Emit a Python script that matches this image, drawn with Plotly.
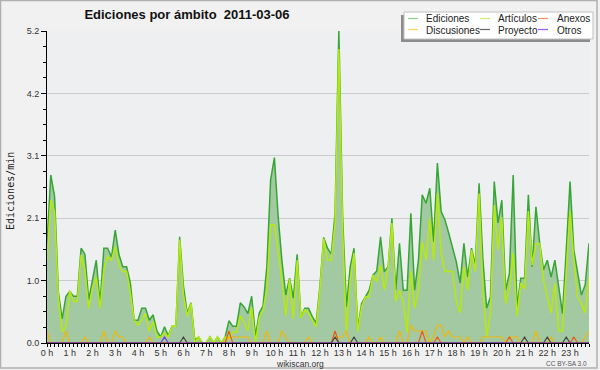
import numpy as np
import plotly.graph_objects as go

# ---- data: values per 10-minute slot (6 per hour, one row per hour) ----
ediciones = [
    1.65, 2.8, 2.44, 0.85, 0.4, 0.78,
    0.86, 0.78, 0.78, 1.58, 1.48, 0.72,
    1.05, 1.38, 0.66, 1.58, 1.58, 1.43,
    1.88, 1.47, 1.27, 1.27, 1.0, 0.38,
    0.38, 0.58, 0.58, 0.38, 0.47, 0.2,
    0.1, 0.27, 0.12, 0.28, 0.28, 1.77,
    0.95, 0.49, 0.67, 0.05, 0.1, 0.0,
    0.0, 0.1, 0.0, 0.1, 0.0, 0.1,
    0.37, 0.28, 0.28, 0.67, 0.6, 0.49,
    0.78, 0.12, 0.5, 0.62, 1.27, 2.72,
    3.09, 2.1, 1.36, 0.8, 1.08, 0.75,
    1.48, 0.42, 0.58, 0.58, 0.44, 0.33,
    0.94, 1.76, 1.58, 1.48, 2.16, 5.2,
    2.1, 0.6, 1.27, 1.58, 0.24, 0.66,
    0.77, 0.88, 1.13, 1.2, 1.77, 1.19,
    1.27, 2.08, 0.88, 1.66, 0.88, 0.88,
    2.16, 0.88, 1.38, 2.47, 2.33, 2.58,
    1.69, 3.0, 2.19, 2.05, 1.83, 1.6,
    1.35, 1.0, 1.66, 1.1, 1.58, 1.3,
    2.66, 1.4, 0.58, 0.77, 2.69, 2.0,
    2.38, 0.88, 1.16, 2.8, 0.6, 1.08,
    1.08, 2.47, 1.27, 2.27, 1.66, 1.22,
    1.38, 1.1, 1.38, 0.94, 0.49, 1.55,
    2.69, 1.55, 1.19, 0.8, 0.97, 1.66,
]
articulos = [
    1.35, 2.38, 2.19, 0.77, 0.19, 0.27,
    0.87, 0.69, 0.69, 1.47, 1.22, 0.58,
    0.91, 1.1, 0.58, 1.22, 1.44, 1.38,
    1.6, 1.3, 1.19, 1.19, 0.83, 0.38,
    0.3, 0.38, 0.49, 0.19, 0.36, 0.1,
    0.1, 0.17, 0.1, 0.28, 0.28, 1.72,
    0.8, 0.45, 0.66, 0.0, 0.1, 0.0,
    0.0, 0.1, 0.0, 0.1, 0.0, 0.1,
    0.07, 0.18, 0.18, 0.45, 0.35, 0.2,
    0.6, 0.0, 0.42, 0.55, 0.88, 1.97,
    1.97, 1.55, 1.05, 0.45, 1.07, 0.4,
    1.38, 0.42, 0.55, 0.5, 0.38, 0.27,
    0.88, 1.74, 1.38, 1.38, 2.0, 4.9,
    1.88, 0.19, 1.05, 1.5, 0.19, 0.6,
    0.77, 0.77, 1.13, 1.02, 1.3, 0.88,
    1.27, 2.0, 0.69, 0.88, 0.69, 0.18,
    1.2, 0.58, 0.88, 1.69, 1.38, 2.08,
    1.38, 2.49, 1.5, 1.19, 1.19, 1.19,
    0.69, 0.5, 1.27, 0.88, 1.55, 1.19,
    2.49, 0.9, 0.1, 0.5, 2.3, 1.55,
    2.1, 0.66, 0.9, 1.5, 0.45, 1.0,
    0.9, 2.2, 1.3, 1.66, 1.66, 1.05,
    0.77, 0.5, 1.0, 0.2, 0.2, 1.25,
    2.2, 1.4, 0.77, 0.66, 0.5, 1.1,
]
discusiones = [
    0.2, 0, 0, 0, 0, 0.2,
    0, 0, 0, 0, 0.1, 0,
    0, 0, 0, 0.2, 0, 0,
    0.2, 0.1, 0.1, 0, 0, 0,
    0, 0, 0, 0.1, 0, 0,
    0, 0, 0, 0, 0, 0,
    0, 0, 0, 0, 0, 0,
    0, 0, 0, 0, 0, 0,
    0.1, 0.1, 0.1, 0.1, 0.1, 0.1,
    0, 0, 0, 0, 0.2, 0,
    0, 0, 0.2, 0.1, 0, 0,
    0, 0, 0, 0.1, 0, 0,
    0, 0, 0, 0, 0.1, 0.1,
    0.1, 0.2, 0, 0, 0, 0,
    0, 0.1, 0, 0, 0.1, 0,
    0, 0, 0, 0.2, 0, 0,
    0.3, 0.2, 0.2, 0.2, 0.2, 0,
    0.1, 0.3, 0.3, 0.1, 0.2, 0.1,
    0.1, 0.1, 0, 0.1, 0, 0,
    0, 0.1, 0.1, 0.1, 0.1, 0.1,
    0.1, 0, 0.1, 0.1, 0.1, 0,
    0, 0, 0, 0.2, 0, 0,
    0, 0.1, 0, 0, 0, 0,
    0, 0, 0, 0, 0.1, 0.2,
]
anexos = [0.0] * 144
for k, v in {48: 0.2, 76: 0.2, 99: 0.2, 103: 0.1, 122: 0.1, 139: 0.1}.items():
    anexos[k] = v
proyecto = [0.0] * 144
for k, v in {36: 0.1, 76: 0.1, 81: 0.1, 126: 0.1, 132: 0.1, 137: 0.1}.items():
    proyecto[k] = v
otros = [0.0] * 144
otros[31] = 0.1

hour_ticks = list(range(24))
hour_labels = [f"{h} h" for h in hour_ticks]
y_ticks = [0, 1.04, 2.08, 3.12, 4.16, 5.2]
y_labels = ["0.0", "1.0", "2.1", "3.1", "4.2", "5.2"]

x = np.arange(144) / 6.0

# ---- geometry helpers (pixels -> paper) ----
W, H = 600, 370
ML, MR, MT, MB = 47, 11, 31, 27
PW, PH = W - ML - MR, H - MT - MB
def px(p):
    return (p - ML) / PW
def py(p):
    return (H - MB - p) / PH

SANS = "Liberation Sans, Arial, sans-serif"

fig = go.Figure()
fig.add_trace(go.Scatter(x=x, y=ediciones, name="Ediciones", mode="lines",
                         fill="tozeroy", fillcolor="#a2c9a2",
                         line=dict(color="#36a636", width=1.5)))
fig.add_trace(go.Scatter(x=x, y=articulos, name="Artículos", mode="lines",
                         line=dict(color="#b6ea0a", width=1.5)))
fig.add_trace(go.Scatter(x=x, y=discusiones, name="Discusiones", mode="lines",
                         line=dict(color="#f2b705", width=1.2)))
fig.add_trace(go.Scatter(x=x, y=anexos, name="Anexos", mode="lines",
                         line=dict(color="#ee5a14", width=1.2)))
fig.add_trace(go.Scatter(x=x, y=proyecto, name="Proyecto", mode="lines",
                         line=dict(color="#444444", width=1.2)))
fig.add_trace(go.Scatter(x=x, y=otros, name="Otros", mode="lines",
                         line=dict(color="#7a35e0", width=1.2)))

shapes = []
annotations = []

# outer frame
shapes.append(dict(type="rect", xref="paper", yref="paper",
                   x0=px(0.5), x1=px(597), y0=py(0.5), y1=py(368),
                   line=dict(color="#b0b0b0", width=1.5), layer="below"))

# legend box with shadow
shapes.append(dict(type="rect", xref="paper", yref="paper",
                   x0=px(401), x1=px(590), y0=py(15), y1=py(42),
                   fillcolor="#8c8c8c", line=dict(width=0), layer="above"))
shapes.append(dict(type="rect", xref="paper", yref="paper",
                   x0=px(404), x1=px(593), y0=py(12), y1=py(39),
                   fillcolor="#ffffff", line=dict(color="#c0c0c0", width=1), layer="above"))

legend_items = [
    ("Ediciones", "#8fce8f", 408, 424, 18.5),
    ("Artículos", "#cdee66", 480, 496, 18.5),
    ("Anexos", "#ff8a55", 538, 555, 18.5),
    ("Discusiones", "#ffd25a", 408, 424, 29.5),
    ("Proyecto", "#666666", 480, 496, 29.5),
    ("Otros", "#9a5af0", 538, 555, 29.5),
]
for name, col, lx, tx, yy in legend_items:
    shapes.append(dict(type="line", xref="paper", yref="paper",
                       x0=px(lx), x1=px(lx + 10), y0=py(yy), y1=py(yy),
                       line=dict(color=col, width=1.2), layer="above"))
    annotations.append(dict(text=name, xref="paper", yref="paper",
                            x=px(tx), y=py(yy + 0.5), xanchor="left", yanchor="middle",
                            showarrow=False, font=dict(family=SANS, size=10, color="#222222")))

# y axis title
annotations.append(dict(text="Ediciones/min", xref="paper", yref="paper",
                        x=px(10), y=py(191), textangle=-90, xanchor="center", yanchor="middle",
                        showarrow=False, font=dict(family="DejaVu Sans Mono", size=10, color="#222222")))
# footers
annotations.append(dict(text="wikiscan.org", xref="paper", yref="paper",
                        x=px(300), y=py(363.5), xanchor="center", yanchor="middle",
                        showarrow=False, font=dict(family=SANS, size=8.5, color="#333333")))
annotations.append(dict(text="CC BY-SA 3.0", xref="paper", yref="paper",
                        x=px(589), y=py(363.5), xanchor="right", yanchor="middle",
                        showarrow=False, font=dict(family=SANS, size=6.5, color="#555555")))

fig.update_layout(
    width=W, height=H,
    margin=dict(l=ML, r=MR, t=MT, b=MB, pad=0),
    paper_bgcolor="#f1f1f1",
    plot_bgcolor="#eeeff1",
    showlegend=False,
    title=dict(text="Ediciones por ámbito \u00a02011-03-06", xref="container",
               x=187 / W, xanchor="center", y=1 - 14 / H, yanchor="middle",
               font=dict(family=SANS, size=13, color="#111111", weight="bold")),
    shapes=shapes,
    annotations=annotations,
    xaxis=dict(range=[0, 143 / 6], tickmode="array", tickvals=hour_ticks, ticktext=hour_labels,
               ticks="outside", ticklen=3, tickcolor="#000000", tickwidth=1,
               ticklabelstandoff=-2,
               showline=True, linecolor="#000000", linewidth=1,
               showgrid=False, zeroline=False, fixedrange=True,
               tickfont=dict(family=SANS, size=9, color="#333333"),
               minor=dict(tickmode="linear", tick0=0, dtick=1 / 6, ticks="outside",
                          ticklen=3, tickcolor="#000000", showgrid=False)),
    yaxis=dict(range=[0, 5.2], tickmode="array", tickvals=y_ticks, ticktext=y_labels,
               ticks="outside", ticklen=5, tickcolor="#000000", tickwidth=1,
               showline=True, linecolor="#000000", linewidth=1,
               showgrid=True, gridcolor="#cbcbcb", gridwidth=1,
               zeroline=False, fixedrange=True,
               tickfont=dict(family=SANS, size=9, color="#333333"),
               minor=dict(tickmode="linear", tick0=0, dtick=0.26, ticks="outside",
                          ticklen=3, tickcolor="#000000", showgrid=False)),
)

fig.write_html("out.html", config={"displayModeBar": False},
               post_script="document.body.style.margin='0';document.body.style.overflow='hidden';")
